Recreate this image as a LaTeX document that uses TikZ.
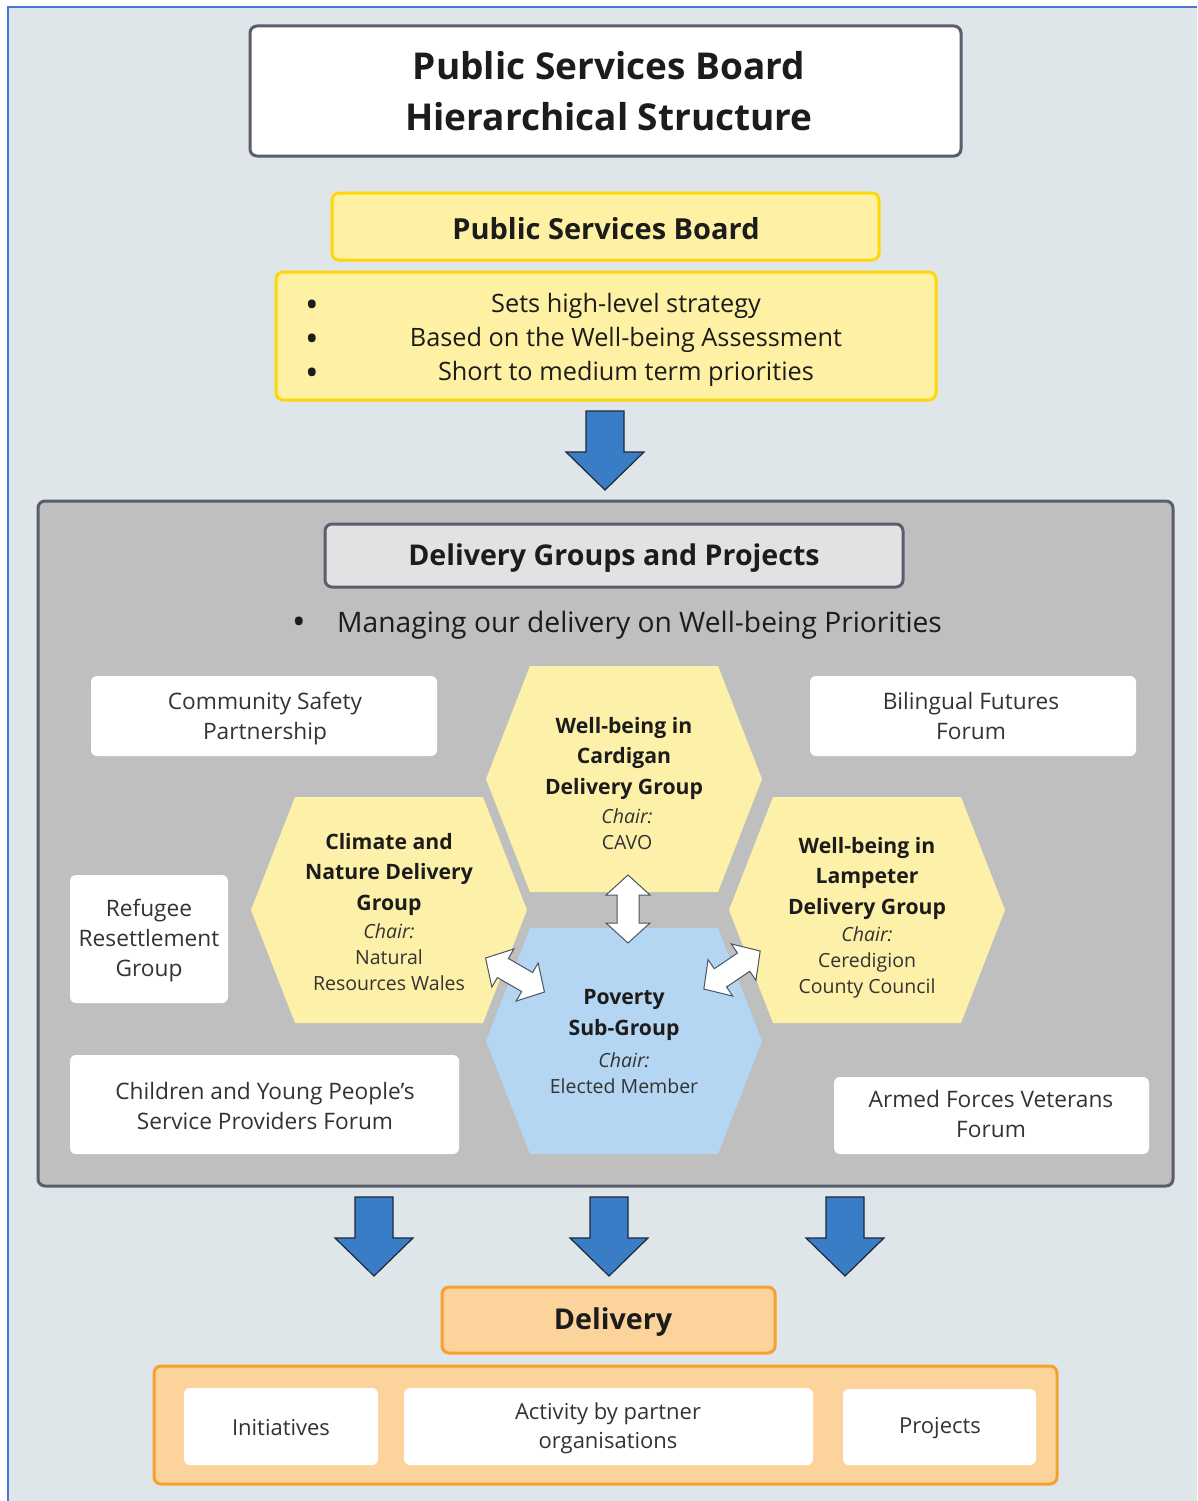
\documentclass[tikz,border=0pt]{standalone}
\usepackage{fontspec}
\setmainfont{Open Sans}
\definecolor{bgc}{HTML}{DFE6EA}
\definecolor{edgeblue}{HTML}{4A78CF}
\definecolor{darkb}{HTML}{5A5D6C}
\definecolor{yfill}{HTML}{FFF1A3}
\definecolor{yline}{HTML}{FFD60A}
\definecolor{hexy}{HTML}{FDF0A8}
\definecolor{hexb}{HTML}{B5D6F2}
\definecolor{panelc}{HTML}{BFBFBF}
\definecolor{headg}{HTML}{E3E1E4}
\definecolor{ofill}{HTML}{FCD49B}
\definecolor{oline}{HTML}{F6A12E}
\definecolor{arrblue}{HTML}{3A7DC7}
\definecolor{arrline}{HTML}{1E2838}
\definecolor{txt}{HTML}{1C1C1C}
\definecolor{txtb}{HTML}{333333}
\tikzset{
  box/.style={rectangle, inner sep=0pt, rounded corners=7pt, line width=3pt},
  titlebox/.style={box, draw=darkb, fill=white},
  ybox/.style={box, draw=yline, fill=yfill},
  obox/.style={box, draw=oline, fill=ofill},
  wbox/.style={rectangle, inner sep=0pt, rounded corners=6pt, fill=white},
  label/.style={inner sep=0pt, align=center, text=txtb, font=\fontsize{22.7}{30}\selectfont},
  bul/.style={inner sep=0pt, align=center, text=txt, font=\fontsize{36}{34}\selectfont},
  htitle/.style={inner sep=0pt, align=center, text=txt, font=\bfseries\fontsize{21.2}{30.5}\selectfont},
  hchair/.style={inner sep=0pt, align=center, text=txtb, font=\fontsize{19.5}{26}\selectfont},
  hexagon/.pic={\fill[#1] (-138,0) -- (-94,-113) -- (94,-113) -- (138,0) -- (94,113) -- (-94,113) -- cycle;},
  blockdown/.pic={\draw[fill=arrblue, draw=arrline, line width=1.2pt, line join=miter]
     (-19,0) -- (19,0) -- (19,41) -- (39,41) -- (0,79) -- (-39,41) -- (-19,41) -- cycle;},
  dblarrow/.pic={\draw[fill=white, draw=arrline!80, line width=1pt, line join=miter]
     (-34,0) -- (-14,-22) -- (-14,-11) -- (14,-11) -- (14,-22) -- (34,0) -- (14,22) -- (14,11) -- (-14,11) -- (-14,22) -- cycle;}
}
\begin{document}
\begin{tikzpicture}[x=1pt,y=-1pt]
\useasboundingbox (0,0) rectangle (1197,1501);
% background
\fill[white] (0,0) rectangle (1197,1501);
\fill[bgc] (8,7) rectangle (1197,1501);
\draw[edgeblue, line width=2pt] (8,1501) -- (8,7) -- (1197,7);

% title
\node[titlebox, minimum width=711pt, minimum height=130pt] (title) at (605.5,91) {};
\node[inner sep=0pt, align=center, text=txt, font=\bfseries\fontsize{37}{51}\selectfont] (titletext) at (609,91) {Public Services Board\\Hierarchical Structure};

% PSB
\node[ybox, minimum width=547pt, minimum height=67pt] (psb) at (605.5,226.5) {};
\node[inner sep=0pt, text=txt, font=\bfseries\fontsize{29}{30}\selectfont] (psbtext) at (606,229) {Public Services Board};
\node[ybox, minimum width=660pt, minimum height=128pt] (psbb) at (606,336) {};
\node[bul] (psbbul) at (312,343) {•\\•\\•};
\node[inner sep=0pt, align=center, text=txt, font=\fontsize{25.3}{34}\selectfont] (psbitems) at (626,340) {Sets high-level strategy\\Based on the Well-being Assessment\\Short to medium term priorities};

\pic at (605,411) {blockdown};

% delivery groups panel
\node[box, draw=darkb, fill=panelc, minimum width=1135pt, minimum height=685pt] (panel) at (605.5,843.5) {};
\node[box, draw=darkb, fill=headg, minimum width=578pt, minimum height=63pt] (dghead) at (614,555.5) {};
\node[inner sep=0pt, text=txt, font=\bfseries\fontsize{28.6}{30}\selectfont] (dgtext) at (614,558) {Delivery Groups and Projects};
\node[bul] (mbul) at (299,626) {•};
\node[inner sep=0pt, anchor=west, text=txt, font=\fontsize{28.2}{30}\selectfont] (mtext) at (337,625) {Managing our delivery on Well-being Priorities};

% white boxes
\node[wbox, minimum width=346pt, minimum height=80pt] (csp) at (264,716) {};
\node[label] (csptext) at (265,719) {Community Safety\\Partnership};
\node[wbox, minimum width=326pt, minimum height=80pt] (bff) at (973,716) {};
\node[label] (bfftext) at (971,716) {Bilingual Futures\\Forum};
\node[wbox, minimum width=158pt, minimum height=128pt] (rrg) at (149,939) {};
\node[label] (rrgtext) at (149,941) {Refugee\\Resettlement\\Group};
\node[wbox, minimum width=389pt, minimum height=99pt] (cyp) at (264.5,1104.5) {};
\node[label] (cyptext) at (265,1106) {Children and Young People's\\Service Providers Forum};
\node[wbox, minimum width=315pt, minimum height=77pt] (afv) at (991.5,1115.5) {};
\node[label] (afvtext) at (991,1114) {Armed Forces Veterans\\Forum};

% hexagons
\pic at (624,779) {hexagon=hexy};
\pic at (389,910) {hexagon=hexy};
\pic at (867,910) {hexagon=hexy};
\pic at (624,1041) {hexagon=hexb};

\node[htitle] (cardt) at (624,758) {Well-being in\\Cardigan\\Delivery Group};
\node[hchair] (cardc) at (627,829) {\itshape Chair:\\CAVO};
\node[htitle] (climt) at (389,874) {Climate and\\Nature Delivery\\Group};
\node[hchair] (climc) at (389,957) {\itshape Chair:\\Natural\\Resources Wales};
\node[htitle] (lampt) at (867,878) {Well-being in\\Lampeter\\Delivery Group};
\node[hchair] (lampc) at (867,962) {\itshape Chair:\\Ceredigion\\County Council};
\node[htitle] (povt) at (624,1015) {Poverty\\Sub-Group};
\node[hchair] (povc) at (624,1073) {\itshape Chair:\\Elected Member};

% double arrows
\pic[rotate=90] at (628,909) {dblarrow};
\pic[rotate=-30] at (515,975) {dblarrow};
\pic[rotate=34] at (732,970) {dblarrow};

% arrows to delivery
\pic at (374,1197) {blockdown};
\pic at (609,1197) {blockdown};
\pic at (845,1197) {blockdown};

% delivery
\node[obox, minimum width=333pt, minimum height=66pt] (deliv) at (608.5,1320) {};
\node[inner sep=0pt, text=txt, font=\bfseries\fontsize{28.7}{30}\selectfont] (delivtext) at (613,1322) {Delivery};
\node[obox, minimum width=903pt, minimum height=118pt] (dbox) at (605.5,1425) {};
\node[wbox, minimum width=194pt, minimum height=77pt] (init) at (281,1426.5) {};
\node[label, font=\fontsize{22}{29}\selectfont] (inittext) at (281,1428) {Initiatives};
\node[wbox, minimum width=409pt, minimum height=77pt] (act) at (608.5,1426.5) {};
\node[label, font=\fontsize{22}{29}\selectfont] (acttext) at (608,1428) {Activity by partner\\organisations};
\node[wbox, minimum width=193pt, minimum height=76pt] (proj) at (939.5,1427) {};
\node[label, font=\fontsize{22}{29}\selectfont] (projtext) at (940,1428) {Projects};
\end{tikzpicture}
\end{document}
